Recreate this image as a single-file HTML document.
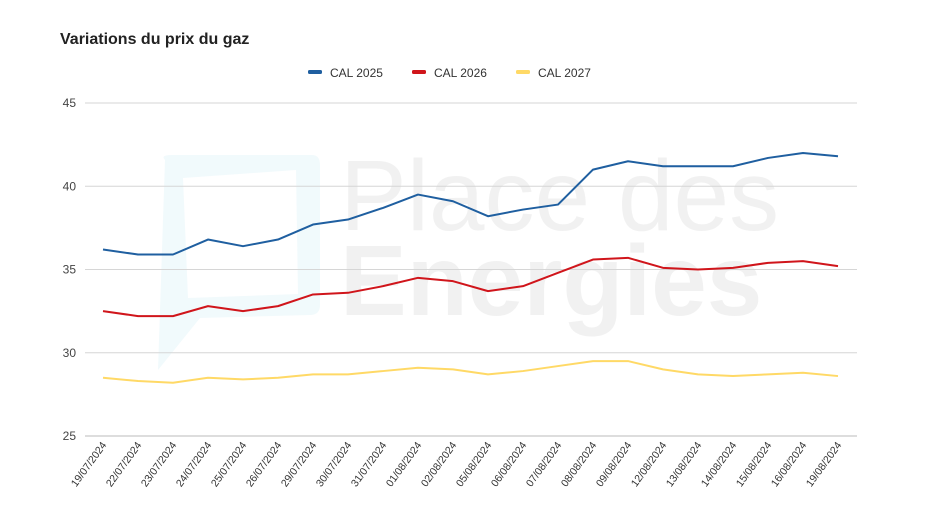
<!DOCTYPE html>
<html><head><meta charset="utf-8"><style>
body{margin:0;background:#fff;font-family:"Liberation Sans",sans-serif}
svg text{font-family:"Liberation Sans",sans-serif}
</style></head><body>
<svg id="c" width="936" height="526">
<text x="60" y="44" font-size="16" font-weight="bold" fill="#222">Variations du prix du gaz</text>
<g opacity="0.5">
<path d="M165 160 Q160 155 172 155 L312 155 Q320 155 320 165 L320 305 Q320 315 310 315 L200 318 L158 370 Z" fill="#d8eff6" opacity="0.7"/>
<path d="M183 178 L296 170 L298 294 L188 298 Z" fill="#fff"/>
<text x="340" y="230" font-size="100" fill="#e4e4e4">Place des</text>
<text x="340" y="315" font-size="100" font-weight="bold" fill="#e4e4e4">Energies</text>
</g>
<g id="grid"></g><g id="lines"></g><g id="legend"></g>
</svg>
<script>
const categories=["19/07/2024","22/07/2024","23/07/2024","24/07/2024","25/07/2024","26/07/2024","29/07/2024","30/07/2024","31/07/2024","01/08/2024","02/08/2024","05/08/2024","06/08/2024","07/08/2024","08/08/2024","09/08/2024","12/08/2024","13/08/2024","14/08/2024","15/08/2024","16/08/2024","19/08/2024"];
const cal2025=[36.2,35.9,35.9,36.8,36.4,36.8,37.7,38.0,38.7,39.5,39.1,38.2,38.6,38.9,41.0,41.5,41.2,41.2,41.2,41.7,42.0,41.8];
const cal2026=[32.5,32.2,32.2,32.8,32.5,32.8,33.5,33.6,34.0,34.5,34.3,33.7,34.0,34.8,35.6,35.7,35.1,35.0,35.1,35.4,35.5,35.2];
const cal2027=[28.5,28.3,28.2,28.5,28.4,28.5,28.7,28.7,28.9,29.1,29.0,28.7,28.9,29.2,29.5,29.5,29.0,28.7,28.6,28.7,28.8,28.6];
const yTicks=[25,30,35,40,45];
const seriesNames=["CAL 2025","CAL 2026","CAL 2027"];
const NS="http://www.w3.org/2000/svg";
const x=i=>103+i*(735/(categories.length-1));
const y=v=>436-(v-25)*(333/20);
function mk(t,a,p){const e=document.createElementNS(NS,t);for(const k in a)e.setAttribute(k,a[k]);p.appendChild(e);return e;}
const grid=document.getElementById('grid');
yTicks.forEach(t=>{
 const l=mk('line',{x1:85,x2:857,y1:y(t),y2:y(t),stroke:t===25?'#bbb':'#d6d6d6','stroke-width':1},grid);
 
 
 const tx=mk('text',{x:76,y:y(t)+4,'text-anchor':'end','font-size':12,fill:'#444'},grid);
 tx.textContent=t;
 
 
});
categories.forEach((c,i)=>{
 const tx=mk('text',{transform:`translate(${x(i)+4},${445}) rotate(-54)`,'text-anchor':'end','font-size':10.5,fill:'#333'},grid);
 tx.textContent=c;
 
 
});
const colors=["#1f5fa0","#d0151b","#ffd966"];
const lines=document.getElementById('lines');
[cal2025,cal2026,cal2027].forEach((s,k)=>{
 const p=mk('polyline',{points:s.map((v,i)=>x(i)+','+y(v)).join(' '),fill:'none',stroke:colors[k],'stroke-width':2,'stroke-linejoin':'round'},lines);
 
 
});
const lg=document.getElementById('legend');
const lx=[308,412,516];
seriesNames.forEach((n,k)=>{
 const g=mk('g',{},lg);
 
 
 mk('rect',{x:lx[k],y:70,width:14,height:4,rx:1.5,fill:colors[k]},g);
 const t=mk('text',{x:lx[k]+22,y:77,'font-size':12,fill:'#333'},g);
 t.textContent=n;
});
</script>
</body></html>
